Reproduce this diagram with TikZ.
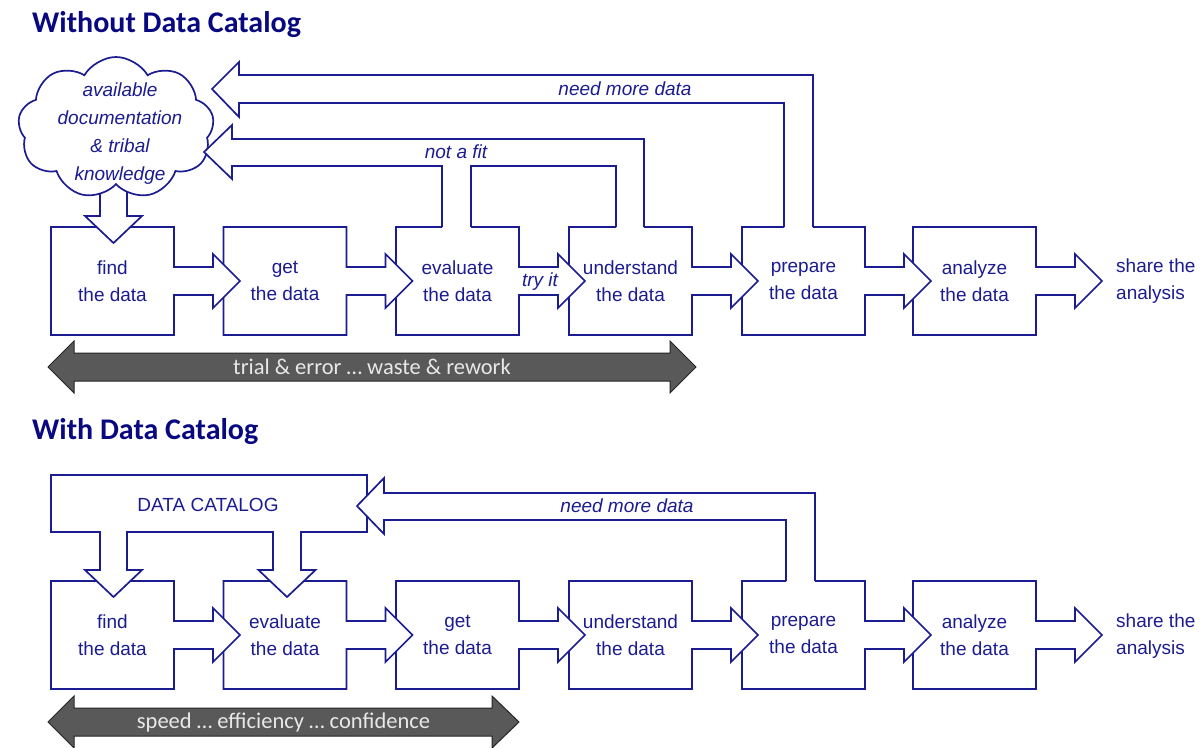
\documentclass[tikz,border=0pt]{standalone}
\usepackage{fontspec}
\setmainfont{Liberation Sans}
\newfontfamily\calfont{Carlito}
\usetikzlibrary{shapes.symbols}

\definecolor{inkblue}{RGB}{28,28,145}
\definecolor{titleblue}{RGB}{8,8,128}
\definecolor{bargray}{RGB}{89,89,89}
\definecolor{bartext}{RGB}{232,232,232}

\tikzset{
  outl/.style={draw=inkblue, line width=1.7pt, line join=miter, miter limit=10},
  lbl/.style={text=inkblue, font=\fontsize{19}{26.5}\selectfont, align=center, inner sep=0pt},
  ilbl/.style={text=inkblue, font=\fontsize{19}{28}\selectfont\itshape, align=center, inner sep=0pt},
  ttl/.style={text=titleblue, font=\calfont\bfseries\fontsize{30}{35}\selectfont, anchor=base west, inner sep=0pt},
  barshape/.style={fill=bargray, draw=black!85, line width=1pt, line join=miter},
  bartxt/.style={text=bartext, font=\calfont\fontsize{22.5}{26}\selectfont, inner sep=0pt},
  % process box with an outgoing hollow arrow on its right side
  pics/procbox/.style={code={
    \filldraw[outl, fill=white] (0,0) -- (123,0) -- (123,40) -- (162,40) -- (162,27)
      -- (189,54) -- (162,81) -- (162,68) -- (123,68) -- (123,108) -- (0,108) -- cycle;
    \node[lbl] (-txt) at (61.5,54) {#1};
  }},
  % same box, its top edge left open between #2 and #3 for a riser
  pics/procopen/.style n args={3}{code={
    \fill[white] (0,0) -- (123,0) -- (123,40) -- (162,40) -- (162,27)
      -- (189,54) -- (162,81) -- (162,68) -- (123,68) -- (123,108) -- (0,108) -- cycle;
    \draw[outl] (#2,0) -- (0,0) -- (0,108) -- (123,108) -- (123,68) -- (162,68)
      -- (162,81) -- (189,54) -- (162,27) -- (162,40) -- (123,40) -- (123,0) -- (#3,0);
    \node[lbl] (-txt) at (61.5,54) {#1};
  }},
}

\begin{document}
\begin{tikzpicture}[x=1pt, y=-1pt]
\useasboundingbox (0,0) rectangle (1201,747);

% ---------------- without a data catalog ----------------
\node[ttl] (titleA) at (32,32) {Without Data Catalog};

\pic (anaA)  at (913,227)   {procbox={analyze\\the data}};
\pic (prepA) at (742,227)   {procopen={prepare\\the data}{42}{71}};
\pic (undA)  at (569,227)   {procopen={understand\\the data}{47}{75}};
\pic (evalA) at (396,227)   {procopen={evaluate\\the data}{46}{75}};
\pic (getA)  at (223.5,227) {procbox={get\\the data}};
\pic (findA) at (51,227)    {procbox={find\\the data}};
\node[lbl, align=left, anchor=west] (shareA) at (1116,281) {share the\\analysis};

% knowledge cloud feeding the search
\filldraw[outl, fill=white] (100,170) -- (100,216) -- (85,216) -- (113.5,243)
  -- (142,216) -- (127,216) -- (127,170);
\node[cloud, draw=inkblue, line width=1.7pt, fill=white, cloud puffs=9,
      cloud puff arc=120, aspect=1.4, minimum width=196pt, minimum height=142pt,
      inner sep=0pt] (cloudA) at (116,128) {};
\node[ilbl] (cloudtxt) at (120,134) {available\\documentation\\\& tribal\\knowledge};

% loop back from preparation
\filldraw[outl, fill=white] (813,227) -- (813,75) -- (239,75) -- (239,62) -- (212,89)
  -- (239,117) -- (239,103) -- (784,103) -- (784,227);
% loop back from evaluation and understanding
\fill[white] (644,227) -- (644,139) -- (232,139) -- (232,125) -- (204,152) -- (232,179)
  -- (232,166) -- (442,166) -- (442,227) -- (471,227) -- (471,166) -- (616,166)
  -- (616,227) -- cycle;
\draw[outl] (644,227) -- (644,139) -- (232,139) -- (232,125) -- (204,152) -- (232,179)
  -- (232,166) -- (442,166) -- (442,227);
\draw[outl] (471,227) -- (471,166) -- (616,166) -- (616,227);

\node[ilbl] (moreA) at (625,89) {need more data};
\node[ilbl] (nofit) at (456,152) {not a fit};
\node[ilbl] (tryit) at (540,282) {try it};

\draw[barshape] (48,367) -- (74,341) -- (74,353) -- (670,353) -- (670,341) -- (696,367)
  -- (670,393) -- (670,381) -- (74,381) -- (74,393) -- cycle;
\node[bartxt] (barA) at (372,367) {trial \& error … waste \& rework};

% ---------------- with a data catalog ----------------
\node[ttl] (titleB) at (32,439) {With Data Catalog};

\pic (anaB)  at (913,581)   {procbox={analyze\\the data}};
\pic (prepB) at (742,581)   {procopen={prepare\\the data}{44}{73}};
\pic (undB)  at (569,581)   {procbox={understand\\the data}};
\pic (getB)  at (396,581)   {procbox={get\\the data}};
\pic (evalB) at (223.5,581) {procbox={evaluate\\the data}};
\pic (findB) at (51,581)    {procbox={find\\the data}};
\node[lbl, align=left, anchor=west] (shareB) at (1116,636) {share the\\analysis};

% catalog with its two feeds
\filldraw[outl, fill=white] (51,475) -- (367,475) -- (367,532) -- (301,532) -- (301,570)
  -- (315.5,570) -- (287,597) -- (258.5,570) -- (273,570) -- (273,532) -- (127,532)
  -- (127,570) -- (142,570) -- (113.5,597) -- (85,570) -- (100,570) -- (100,532)
  -- (51,532) -- cycle;
\node[lbl] (catalog) at (208,505) {DATA CATALOG};

% loop back from preparation into the catalog
\filldraw[outl, fill=white] (815,581) -- (815,493) -- (384,493) -- (384,478) -- (357,506)
  -- (384,534) -- (384,520) -- (786,520) -- (786,581);
\node[ilbl] (moreB) at (627,506) {need more data};

\draw[barshape] (48,722) -- (74,696) -- (74,708) -- (492,708) -- (492,696) -- (519,722)
  -- (492,748) -- (492,736) -- (74,736) -- (74,748) -- cycle;
\node[bartxt] (barB) at (283.5,722) {speed … efficiency … confidence};
\end{tikzpicture}
\end{document}
